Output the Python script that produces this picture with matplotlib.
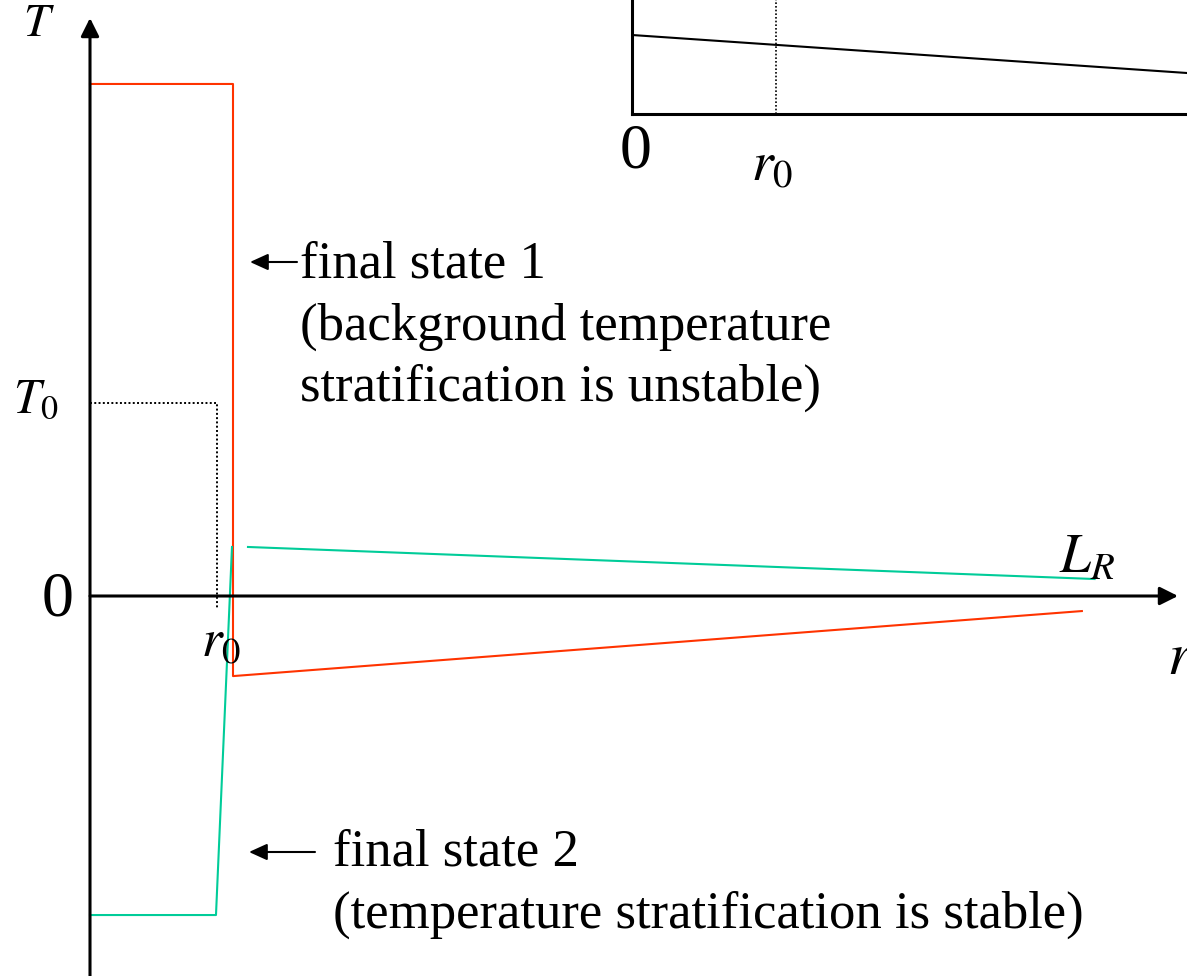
import matplotlib
matplotlib.use('Agg')
import matplotlib.pyplot as plt

plt.rcParams['font.family'] = ['Liberation Serif', 'DejaVu Serif']
plt.rcParams['mathtext.fontset'] = 'stix'

W, H = 1187, 976

# main sketch: r in units of r0, T in units of T0
red_r = [0.0, 1.126, 1.126, 7.81]
red_T = [2.653, 2.653, -0.415, -0.078]
green_r = [0.0, 0.992, 1.118]
green_T = [-1.653, -1.653, 0.254]
green2_r = [1.244, 7.91]
green2_T = [0.254, 0.088]
init_r = [0.0, 1.0, 1.0]
init_T = [1.0, 1.0, -0.062]

# inset (top right), r in units of r0
inset_r = [0.0, 3.854]
inset_T = [0.79, 0.41]
inset_r0 = 1.0

red = '#ff3300'
green = '#00cc99'


def fp(x, y):
    # pixel (from top left) -> figure fraction
    return (x / W, 1 - y / H)


fig = plt.figure(figsize=(W / 100, H / 100), dpi=100)
ax = fig.add_axes([0, 0, 1, 1])
ax.set_xlim(-90 / 127, (W - 90) / 127)
ax.set_ylim((596 - H) / 193, 596 / 193)
ax.axis('off')

ax.plot(init_r, init_T, color='black', lw=1.4, ls=(0, (1, 1.2)))
ax.plot(red_r, red_T, color=red, lw=1.5)
ax.plot(green_r, green_T, color=green, lw=1.5)
ax.plot(green2_r, green2_T, color=green, lw=1.5)

# axes with arrow heads
ymin = ax.get_ylim()[0]
ax.annotate('', xy=(0, (596 - 18) / 193), xytext=(0, ymin),
            arrowprops=dict(arrowstyle='-|>,head_length=1.1,head_width=0.55',
                            lw=2.2, color='black', shrinkA=0, shrinkB=0,
                            mutation_scale=10))
ax.annotate('', xy=((1178 - 90) / 127, 0), xytext=(0, 0),
            arrowprops=dict(arrowstyle='-|>,head_length=1.1,head_width=0.55',
                            lw=2.2, color='black', shrinkA=0, shrinkB=0,
                            mutation_scale=10))

# labels
fig.text(*fp(39, 25), '$T$', fontsize=34, ha='center', va='center')
fig.text(*fp(36, 400), '$T_0$', fontsize=35, ha='center', va='center')
fig.text(*fp(58, 600), '0', fontsize=46, ha='center', va='center')
fig.text(*fp(221, 643), '$r_0$', fontsize=38, ha='center', va='center')
fig.text(*fp(1087, 558), '$L_R$', fontsize=40, ha='center', va='center')
fig.text(*fp(1167, 660), '$r$', fontsize=43, ha='left', va='center')

# annotation texts
txt1 = 'final state 1\n(background temperature\nstratification is unstable)'
fig.text(*fp(300, 241), txt1, fontsize=38, ha='left', va='top',
         linespacing=1.36)
txt2 = 'final state 2\n(temperature stratification is stable)'
fig.text(*fp(333, 829), txt2, fontsize=38, ha='left', va='top',
         linespacing=1.36)

for x0, x1, y in [(297, 250, 262), (315, 249, 852)]:
    fig.add_artist(matplotlib.patches.FancyArrowPatch(
        fp(x0, y), fp(x1, y), transform=fig.transFigure,
        arrowstyle='-|>,head_length=1.1,head_width=0.5', mutation_scale=10,
        lw=1.5, color='black', shrinkA=0, shrinkB=0))

# inset
ax2 = fig.add_axes([632 / W, 1 - 114 / H, (W - 632) / W, 114 / H])
ax2.set_xlim(0, (W - 632) / 144)
ax2.set_ylim(0, 1.14)
ax2.plot(inset_r, inset_T, color='black', lw=1.5)
ax2.axvline(inset_r0, color='black', lw=1.2, ls=(0, (1, 1.2)))
for s in ['top', 'right']:
    ax2.spines[s].set_visible(False)
for s in ['left', 'bottom']:
    ax2.spines[s].set_linewidth(2.2)
ax2.set_xticks([])
ax2.set_yticks([])
ax2.patch.set_alpha(0)

fig.text(*fp(636, 152), '0', fontsize=46, ha='center', va='center')
fig.text(*fp(772, 166), '$r_0$', fontsize=40, ha='center', va='center')

fig.savefig('out.png', dpi=100)
